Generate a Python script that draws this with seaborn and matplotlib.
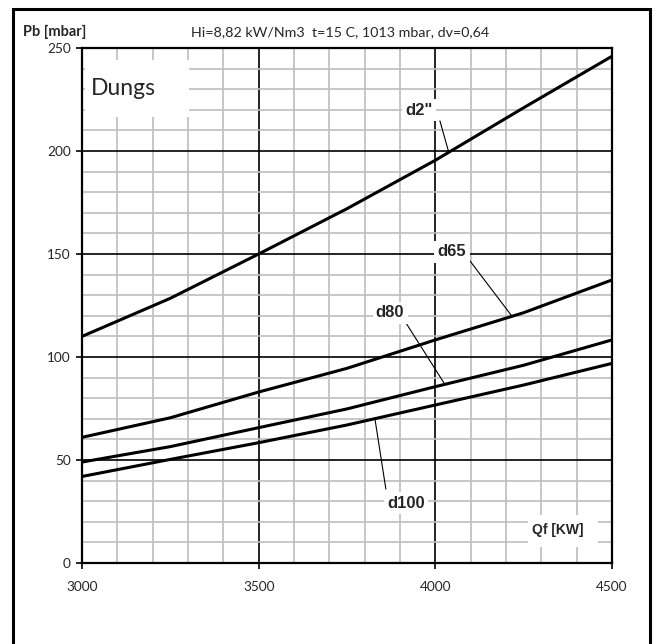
import numpy as np
import pandas as pd
import matplotlib
matplotlib.use("Agg")
import matplotlib.pyplot as plt
from matplotlib.patches import Rectangle
from matplotlib.ticker import MultipleLocator
import seaborn as sns

# Gas flow (kW) and pressure drop (mbar) for each valve size
qf = [3000, 3250, 3500, 3750, 4000, 4250, 4500]
pb_d2 = [110, 128.5, 150, 172, 195.5, 221, 246]
pb_d65 = [61, 70.5, 83, 94.5, 108.3, 121.5, 137.4]
pb_d80 = [49, 56.5, 65.7, 74.8, 85.6, 96, 108.3]
pb_d100 = [42, 50.3, 58.4, 67, 76.7, 86.4, 96.9]
curve_names = ['d2"', "d65", "d80", "d100"]

x_ticks = [3000, 3500, 4000, 4500]
y_ticks = [0, 50, 100, 150, 200, 250]

df = pd.DataFrame({
    "Qf": qf * 4,
    "Pb": pb_d2 + pb_d65 + pb_d80 + pb_d100,
    "curve": sum([[n] * len(qf) for n in curve_names], []),
})

sns.set_style("white")
plt.rcParams["font.family"] = ["Lato", "DejaVu Sans"]

fig = plt.figure(figsize=(6.56, 6.44), dpi=100)
ax = fig.add_axes([82 / 656, 1 - 563 / 644, 530 / 656, 515 / 644])

# outer frame around the sheet
fig.patches.append(Rectangle((13 / 656, -0.05), 637 / 656, 1 - 9 / 644 + 0.05,
                             transform=fig.transFigure, fill=False,
                             edgecolor="black", linewidth=2.2, zorder=0))

sns.lineplot(data=df, x="Qf", y="Pb", units="curve", estimator=None,
             color="black", linewidth=2.2, ax=ax, zorder=5, legend=False)

ax.set_xlim(3000, 4500)
ax.set_ylim(0, 250)
ax.set_xticks(x_ticks)
ax.set_yticks(y_ticks)
ax.xaxis.set_minor_locator(MultipleLocator(100))
ax.yaxis.set_minor_locator(MultipleLocator(10))
ax.grid(which="minor", color="#bdbdbd", linewidth=1.2, zorder=1)
ax.grid(which="major", color="black", linewidth=1.2, zorder=2)
ax.set_axisbelow(True)
ax.tick_params(which="minor", length=0)
ax.tick_params(which="major", direction="out", length=4, width=1.2,
               color="black", labelsize=9.8, pad=4, left=True, bottom=True)
for s in ax.spines.values():
    s.set_color("black")
    s.set_linewidth(1.6)
    s.set_zorder(6)
ax.set_xlabel("")
ax.set_ylabel("")
ax.tick_params(axis="x", pad=9)

# white boxes for the brand and the x-axis label
ax.add_patch(Rectangle((3008, 216.5), 295, 27.7, facecolor="white",
                       edgecolor="none", zorder=3))
ax.text(3025, 230.5, "Dungs", fontsize=16.5, va="center", ha="left", zorder=4)
ax.add_patch(Rectangle((4262, 7.8), 198, 15.5, facecolor="white",
                       edgecolor="none", zorder=3))
ax.text(4347, 16, "Qf [KW]", fontsize=10, fontweight="bold",
        family=["Liberation Sans", "DejaVu Sans"], va="center", ha="center",
        zorder=4)

# curve labels with leader lines
series = {'d2"': pb_d2, "d65": pb_d65, "d80": pb_d80, "d100": pb_d100}
labels = [
    ('d2"', (3954, 219.9), (4013, 214.6), 4038),
    ("d65", (4047, 151.0), (4092, 148.0), 4217),
    ("d80", (3872, 121.4), (3917, 116.5), 4027),
    ("d100", (3917, 29.1), (3860, 35.9), 3829),
]
for name, txt_pos, lead_start, q_end in labels:
    p_end = np.interp(q_end, qf, series[name])
    ax.plot([lead_start[0], q_end], [lead_start[1], p_end], color="black",
            linewidth=0.8, zorder=6)
    ax.text(txt_pos[0], txt_pos[1], name, fontsize=12, fontweight="bold",
            family=["Liberation Sans", "DejaVu Sans"], ha="center",
            va="center", zorder=7,
            bbox=dict(boxstyle="square,pad=0.2", facecolor="white",
                      edgecolor="none"))

fig.text(23 / 656, 1 - 32 / 644, "Pb [mbar]", fontsize=10.5, fontweight="bold",
         ha="left", va="center")
fig.text(340 / 656, 1 - 32 / 644, "Hi=8,82 kW/Nm3  t=15 C, 1013 mbar, dv=0,64",
         fontsize=10.3, ha="center", va="center")

fig.savefig("out.png", dpi=100, facecolor="white")
